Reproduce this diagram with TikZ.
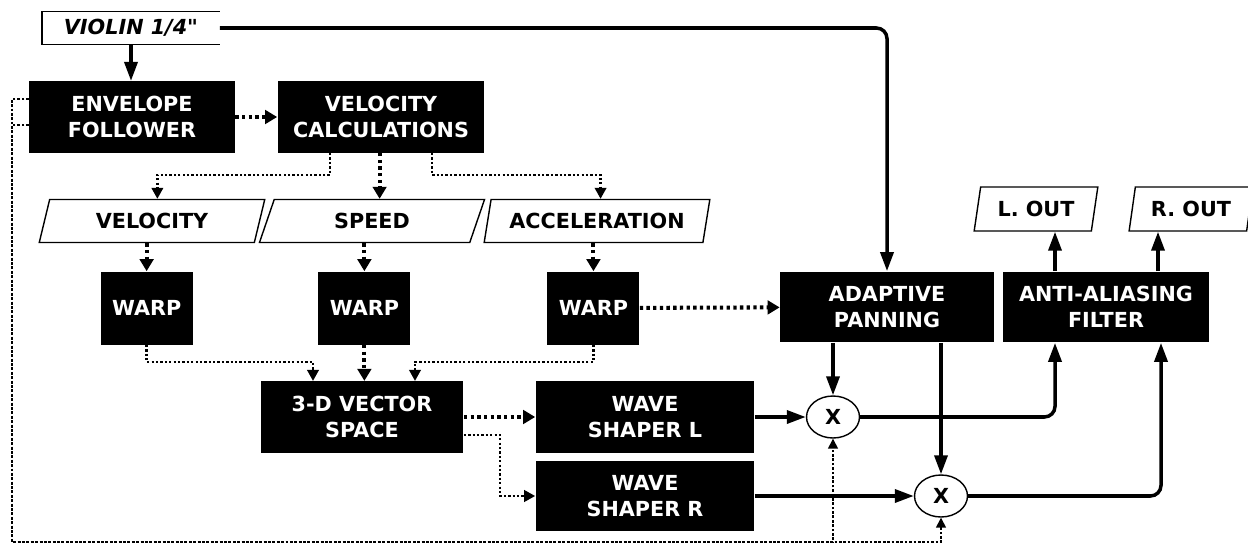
\documentclass[tikz,border=0pt]{standalone}
\usepackage{fontspec}
\setmainfont{DejaVu Sans}
\newfontfamily\viofont{DejaVu Sans}
\usepackage{tikz}
\usetikzlibrary{arrows.meta, positioning, shapes.geometric, calc}

\begin{document}
\begin{tikzpicture}[x=0.02cm, y=-0.02cm,
        font=\fontsize{11.8}{14.7}\selectfont\bfseries,
        blk/.style={fill=black, text=white, align=center, inner sep=0pt,
                    minimum height=1.43cm},
        io/.style={trapezium, trapezium left angle=70, trapezium right angle=110,
                   trapezium stretches=true, draw, line width=0.8pt, fill=white,
                   inner sep=0pt, minimum height=0.86cm},
        mul/.style={ellipse, draw, line width=0.8pt, minimum width=1.06cm,
                    minimum height=0.84cm, inner sep=0pt},
        arr/.style={-{Triangle[length=0.38cm, width=0.26cm]}, line width=2pt},
        dotthick/.style={-{Triangle[length=0.24cm, width=0.27cm]}, line width=2.3pt,
                         dash pattern=on 1.9pt off 1.9pt},
        dotthin/.style={-{Triangle[length=0.22cm, width=0.23cm]}, line width=1.3pt,
                        dash pattern=on 1.3pt off 1.2pt},
        fbk/.style={-{Triangle[length=0.2cm, width=0.2cm]}, line width=0.8pt,
                    dash pattern=on 1.5pt off 1pt}]
        \useasboundingbox (0,0) rectangle (1248,544);
        % Input
        \node[minimum width=3.54cm, minimum height=0.64cm, inner sep=0pt,
              font=\viofont\fontsize{11.8}{14.7}\selectfont\bfseries\itshape] (vio)
          at (131,28) {VIOLIN 1/4"};
        \draw[line width=0.8pt] (vio.north east) -- (vio.north west)
          -- (vio.south west) -- (vio.south east);
        % Analysis
        \node[blk, minimum width=4.12cm] (env) at (132,117) {ENVELOPE\\FOLLOWER};
        \node[blk, minimum width=4.14cm] (vcalc) at (381,117) {VELOCITY\\CALCULATIONS};
        \node[io, minimum width=4.54cm] (pvel) at (152,221) {VELOCITY};
        \node[io, minimum width=4.52cm] (pspd) at (372,221) {SPEED};
        \node[io, minimum width=4.52cm] (pacc) at (597,221) {ACCELERATION};
        \node[blk, minimum width=1.84cm, minimum height=1.46cm,
              below=0.56cm of pvel.bottom side] (warpa) {WARP};
        \node[blk, minimum width=1.84cm, minimum height=1.46cm,
              below=0.56cm of pspd.bottom side] (warpb) {WARP};
        \node[blk, minimum width=1.84cm, minimum height=1.46cm,
              below=0.56cm of pacc.bottom side] (warpc) {WARP};
        \node[blk, minimum width=4.06cm] (vec) at (362,417) {3-D VECTOR\\SPACE};
        % Synthesis
        \node[blk, minimum width=4.38cm] (wsl) at (645,417) {WAVE\\SHAPER L};
        \node[blk, minimum width=4.38cm, minimum height=1.4cm] (wsr) at (645,496)
          {WAVE\\SHAPER R};
        \node[mul] (mull) at (833,417) {X};
        \node[mul] (mulr) at (941,496) {X};
        \node[blk, minimum width=4.28cm, minimum height=1.42cm] (pan) at (887,307)
          {ADAPTIVE\\PANNING};
        \node[blk, minimum width=4.12cm, minimum height=1.42cm] (aaf) at (1106,307)
          {ANTI-ALIASING\\FILTER};
        \node[io, trapezium left angle=74, trapezium right angle=106,
              minimum width=2.48cm, minimum height=0.88cm] (lout) at (1036,209) {L. OUT};
        \node[io, trapezium left angle=74, trapezium right angle=106,
              minimum width=2.48cm, minimum height=0.88cm] (rout) at (1191,209) {R. OUT};
        % Audio path
        \draw[arr, rounded corners=6pt] (vio.east) -| (pan.north);
        \draw[arr] (vio.south) -- (vio.south |- env.north);
        \draw[arr] (wsl) -- (mull);
        \draw[arr] (wsr) -- (mulr);
        \draw[arr] (pan.south -| mull.north) -- (mull.north);
        \draw[arr] (pan.south -| mulr.north) -- (mulr.north);
        \draw[arr, rounded corners=6pt] (mull.east) -| ($(aaf.south)+(-51,0)$);
        \draw[arr, rounded corners=6pt] (mulr.east) -| ($(aaf.south)+(55,0)$);
        \coordinate (lx) at ($(aaf.north)+(-51,0)$);
        \coordinate (rx) at ($(aaf.north)+(52,0)$);
        \draw[arr] (lx) -- (lx |- lout.south);
        \draw[arr] (rx) -- (rx |- rout.south);
        % Control path
        \draw[dotthick] (env) -- (vcalc);
        \draw[dotthin] ($(vcalc.south)+(-51,0)$) |- ($(pvel.top side)+(0,-24)$)
          -- (pvel.top side);
        \draw[dotthick] (vcalc.south -| pspd.top side) -- (pspd.top side);
        \draw[dotthin] ($(vcalc.south)+(51,0)$) |- ($(pacc.top side)+(0,-24)$)
          -- (pacc.top side);
        \draw[dotthick] (pvel.bottom side) -- (warpa);
        \draw[dotthick] (pspd.bottom side) -- (warpb);
        \draw[dotthick] (pacc.bottom side) -- (warpc);
        \draw[dotthin] (warpa.south) -- ++(0,17) -| ($(vec.north)+(-49,0)$);
        \draw[dotthick] (warpb.south) -- (warpb.south |- vec.north);
        \draw[dotthin] (warpc.south) -- ++(0,17) -| ($(vec.north)+(53,0)$);
        \draw[dotthick] (warpc) -- (pan);
        \draw[dotthick] (vec.east) -- (wsl.west);
        \draw[dotthin] ($(vec.east)+(0,18)$) -| ($(wsr.west)+(-35,0)$) -- (wsr.west);
        % Envelope feedback
        \coordinate (fb) at (12,542);
        \draw[fbk] ($(env.west)+(0,-18)$) -| (fb) -| (mull.south);
        \draw[fbk] ($(env.west)+(0,8)$) -| (fb) -| (mulr.south);
\end{tikzpicture}
\end{document}
